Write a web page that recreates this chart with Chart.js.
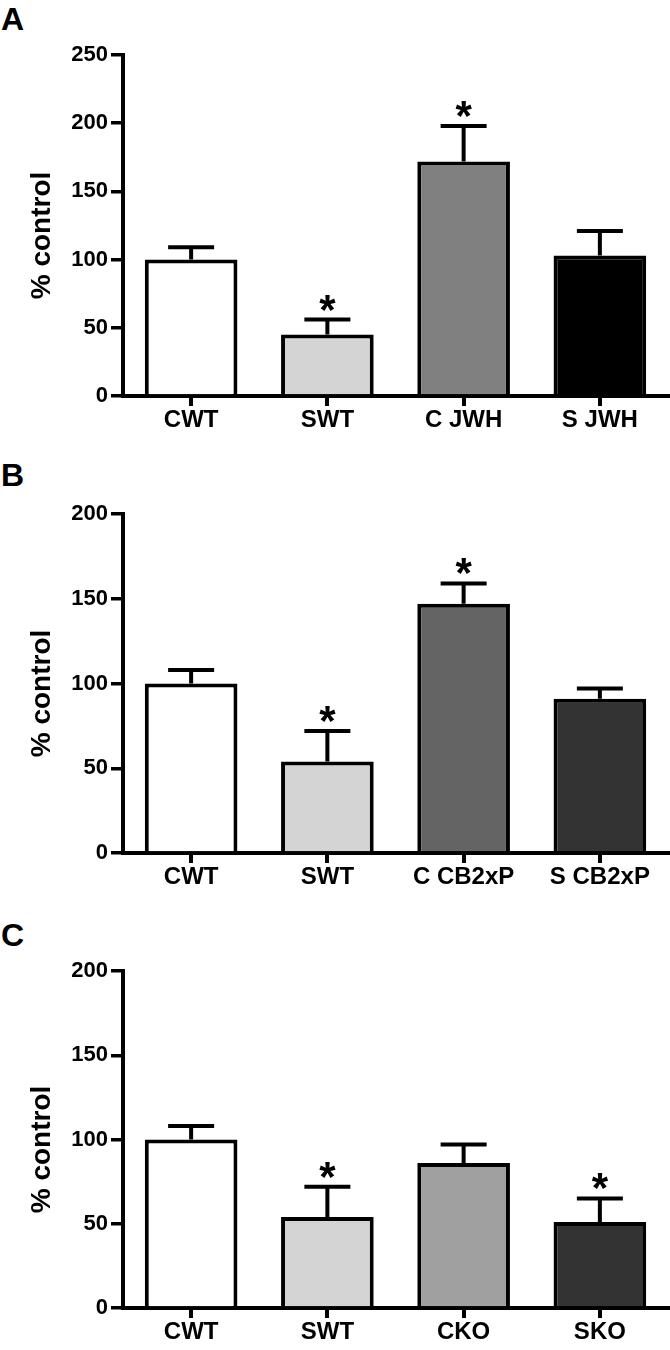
<!DOCTYPE html>
<html>
<head>
<meta charset="utf-8">
<script src="https://cdn.jsdelivr.net/npm/chart.js@4/dist/chart.umd.min.js"></script>
<style>
  body { margin: 0; background: #fff; }
  #wrap { position: relative; width: 670px; height: 1350px; }
  canvas { position: absolute; left: 0; }
  .letter { position: absolute; left: 1px; font: bold 32px/32px "Liberation Sans", Arial, sans-serif; color: #000; }
</style>
</head>
<body>
<div id="wrap">
  <div class="letter" style="top:3px">A</div>
  <div class="letter" style="top:459px">B</div>
  <div class="letter" style="top:919px">C</div>
  <canvas id="chartA" width="670" height="450" style="top:0px"></canvas>
  <canvas id="chartB" width="670" height="450" style="top:450px"></canvas>
  <canvas id="chartC" width="670" height="450" style="top:900px"></canvas>
</div>
<script>
// panel A
const catsA = ['CWT', 'SWT', 'C JWH', 'S JWH'];
const meanA = [100, 45, 172, 103];
const semA = [9, 11, 26, 18];
const starA = [false, true, true, false];
const colorsA = ['#ffffff', '#d4d4d4', '#808080', '#000000'];

// panel B
const catsB = ['CWT', 'SWT', 'C CB2xP', 'S CB2xP'];
const meanB = [100, 54, 147, 91];
const semB = [8, 18, 12, 6];
const starB = [false, true, true, false];
const colorsB = ['#ffffff', '#d4d4d4', '#646464', '#333333'];

// panel C
const catsC = ['CWT', 'SWT', 'CKO', 'SKO'];
const meanC = [100, 54, 86, 51];
const semC = [8, 18, 11, 14];
const starC = [false, true, false, true];
const colorsC = ['#ffffff', '#d4d4d4', '#a0a0a0', '#333333'];

const FONT = '"Liberation Sans", Arial, sans-serif';

// error bars, asterisks and y title
const extras = {
    id: 'extras',
    afterDatasetsDraw(chart, args, opts) {
        const c = chart.ctx;
        const x = chart.scales.x, y = chart.scales.y;
        c.save();
        c.strokeStyle = '#000';
        c.fillStyle = '#000';
        c.lineWidth = 4;
        c.lineCap = 'butt';
        opts.means.forEach((m, i) => {
            const px = x.getPixelForValue(i);
            const yBar = y.getPixelForValue(m);
            const yTop = y.getPixelForValue(m + opts.sems[i]);
            c.beginPath();
            c.moveTo(px, yBar);
            c.lineTo(px, yTop);
            c.moveTo(px - 23, yTop);
            c.lineTo(px + 23, yTop);
            c.stroke();
            if (opts.stars[i]) {
                c.font = 'bold 42px ' + FONT;
                c.textAlign = 'center';
                c.textBaseline = 'alphabetic';
                c.fillText('*', px, yTop + 4);
            }
        });
        // y axis title
        const area = chart.chartArea;
        c.translate(42, (area.top + area.bottom) / 2 + 10);
        c.rotate(-Math.PI / 2);
        c.font = 'bold 28px ' + FONT;
        c.textAlign = 'center';
        c.textBaseline = 'middle';
        c.fillText('% control', 0, 0);
        c.restore();
    }
};

function makePanel(id, cats, means, sems, stars, colors, yMax, top, bottom) {
    return new Chart(document.getElementById(id), {
        type: 'bar',
        data: {
            labels: cats,
            datasets: [{
                data: means,
                backgroundColor: colors,
                borderColor: '#000',
                borderWidth: 4,
                categoryPercentage: 1,
                barPercentage: 0.68
            }]
        },
        options: {
            responsive: false,
            animation: false,
            layout: { padding: { top: top, right: 2, left: 0, bottom: 0 } },
            plugins: {
                legend: { display: false },
                tooltip: { enabled: false },
                extras: { means: means, sems: sems, stars: stars }
            },
            scales: {
                x: {
                    offset: true,
                    grid: { offset: false, drawOnChartArea: false, drawTicks: true, tickLength: 10, lineWidth: 4, color: '#000' },
                    border: { display: true, color: '#000', width: 4 },
                    ticks: { color: '#000', font: { family: FONT, size: 24, weight: 'bold' }, padding: 0, maxRotation: 0 },
                    afterFit: (s) => { s.height = 450 - bottom; }
                },
                y: {
                    min: 0,
                    max: yMax,
                    ticks: { stepSize: 50, color: '#000', font: { family: FONT, size: 22, weight: 'bold' }, padding: 3 },
                    grid: { drawOnChartArea: false, drawTicks: true, tickLength: 12, lineWidth: 3.5, color: '#000' },
                    border: { display: true, color: '#000', width: 4 },
                    afterFit: (s) => { s.width = 123; }
                }
            }
        },
        plugins: [extras]
    });
}

makePanel('chartA', catsA, meanA, semA, starA, colorsA, 250, 55, 396);
makePanel('chartB', catsB, meanB, semB, starB, colorsB, 200, 64, 403);
makePanel('chartC', catsC, meanC, semC, starC, colorsC, 200, 71, 408);
</script>
</body>
</html>
